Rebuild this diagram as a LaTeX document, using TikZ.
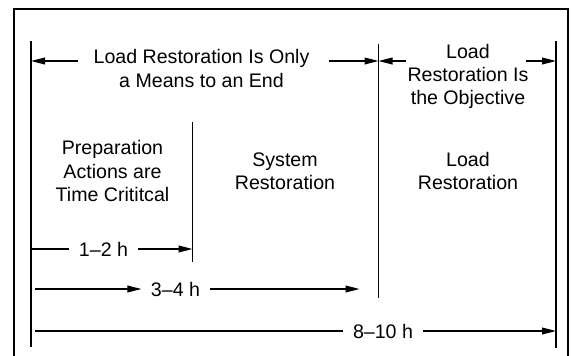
\documentclass[tikz,border=0pt]{standalone}
\usepackage{fontspec}
\setmainfont{Liberation Sans}
\usetikzlibrary{arrows.meta,positioning,calc}

\begin{document}
\begin{tikzpicture}[x=0.5pt,y=-0.5pt,
    font=\fontsize{9.8}{11.7}\selectfont,
    line width=0.6pt,
    arr/.style={-{Triangle[length=7pt,width=3.4pt]}},
    txt/.style={align=center,inner xsep=0pt,inner ysep=0pt},
    span/.style={inner xsep=4.5pt,inner ysep=1pt}]
  \useasboundingbox (0,0) rectangle (573,355);
  \draw[line width=1.3pt] (14,356) -- (14,9) -- (568,9) -- (568,356);
  % phase limits
  \coordinate (m0) at (31,41);
  \coordinate (m1) at (192.5,122);
  \coordinate (m2) at (378.5,44);
  \coordinate (m3) at (556,41);
  \draw (m0) -- ++(0,306);
  \draw (m1) -- ++(0,140);
  \draw (m2) -- ++(0,254);
  \draw (m3) -- ++(0,307);
  % headings
  \node[txt] (means) at (201.5,68.5) {Load Restoration Is Only\\a Means to an End};
  \node[txt] (goal) at (468,76.5) {Load\\Restoration Is\\the Objective};
  \coordinate (a0) at ($(means.west)+(-15,-7.5)$);
  \coordinate (a1) at ($(means.east)+(19,-7.5)$);
  \coordinate (a2) at ($(goal.west)+(-1,-15.5)$);
  \coordinate (a3) at ($(goal.east)+(-3,-15.5)$);
  \draw[arr] (a0) -- (a0 -| m0);
  \draw[arr] (a1) -- (a1 -| m2);
  \draw[arr] (a2) -- (a2 -| m2);
  \draw[arr] (a3) -- (a3 -| m3);
  % phases
  \node[txt] (prep) at (112.5,171) {Preparation\\Actions are\\Time Crititcal};
  \node[txt] (sys) at (285,171) {System\\Restoration};
  \node[txt] (load) at (468,171) {Load\\Restoration};
  % durations
  \node[span] (d12) at (103.5,249) {1--2 h};
  \node[span] (d34) at (175.5,289) {3--4 h};
  \node[span] (d810) at (383,331) {8--10 h};
  \draw (d12 -| m0) -- (d12.west);
  \draw[arr] (d12.east) -- (d12 -| m1);
  \draw[arr,shorten <=2pt] (d34 -| m0) -- (d34.west);
  \draw[arr,shorten >=9.5pt] (d34.east) -- (d34 -| m2);
  \draw[shorten <=2pt] (d810 -| m0) -- (d810.west);
  \draw[arr] (d810.east) -- (d810 -| m3);
\end{tikzpicture}
\end{document}
